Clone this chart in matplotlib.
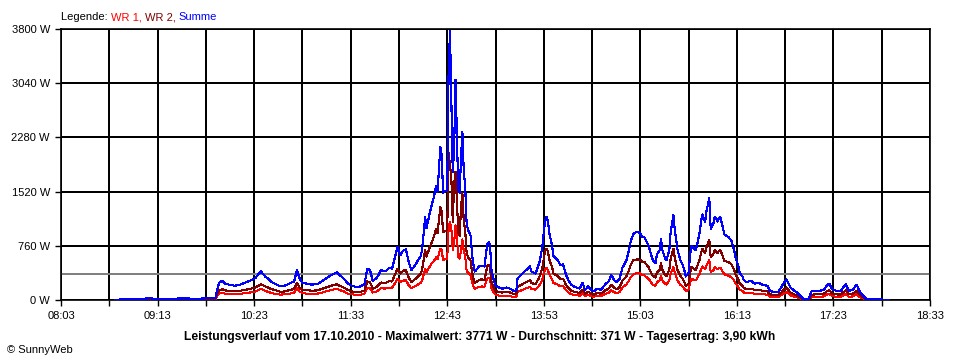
import matplotlib
matplotlib.use("Agg")
import matplotlib.pyplot as plt

plt.rcParams['font.family'] = ['Liberation Sans', 'DejaVu Sans']

# measurement times (clock) and power in W
times = [
    "08:42", "08:51", "08:55", "09:00", "09:04", "09:08", "09:12", "09:17", "09:22", "09:27",
    "09:32", "09:37", "09:42", "09:47", "09:52", "09:55", "09:56", "09:57", "09:58", "10:00",
    "10:02", "10:06", "10:09", "10:13", "10:16", "10:20", "10:24", "10:27", "10:28", "10:31",
    "10:33", "10:36", "10:39", "10:42", "10:45", "10:49", "10:52", "10:54", "10:56", "10:58",
    "11:01", "11:05", "11:09", "11:12", "11:15", "11:18", "11:21", "11:23", "11:25", "11:28",
    "11:31", "11:34", "11:37", "11:40", "11:43", "11:45", "11:47", "11:49", "11:52", "11:55",
    "11:58", "12:01", "12:03", "12:05", "12:07", "12:09", "12:11", "12:13", "12:15", "12:17",
    "12:19", "12:22", "12:24", "12:25", "12:27", "12:28", "12:30", "12:32", "12:33", "12:35",
    "12:36", "12:38", "12:39", "12:40", "12:41", "12:43", "12:44", "12:45", "12:46", "12:47",
    "12:48", "12:49", "12:50", "12:51", "12:52", "12:53", "12:54", "12:55", "12:56", "12:57",
    "12:58", "12:59", "13:00", "13:01", "13:02", "13:03", "13:04", "13:06", "13:08", "13:10",
    "13:12", "13:13", "13:14", "13:15", "13:17", "13:18", "13:21", "13:23", "13:26", "13:28",
    "13:31", "13:33", "13:34", "13:36", "13:39", "13:41", "13:43", "13:44", "13:47", "13:49",
    "13:50", "13:52", "13:53", "13:54", "13:55", "13:56", "13:57", "13:59", "14:00", "14:03",
    "14:05", "14:07", "14:09", "14:11", "14:13", "14:16", "14:19", "14:21", "14:23", "14:25",
    "14:27", "14:29", "14:32", "14:34", "14:36", "14:38", "14:40", "14:42", "14:44", "14:46",
    "14:48", "14:50", "14:53", "14:55", "14:56", "14:58", "15:01", "15:03", "15:04", "15:06",
    "15:09", "15:10", "15:12", "15:14", "15:15", "15:17", "15:18", "15:19", "15:21", "15:22",
    "15:24", "15:25", "15:27", "15:28", "15:30", "15:32", "15:34", "15:36", "15:38", "15:39",
    "15:40", "15:43", "15:44", "15:46", "15:47", "15:48", "15:50", "15:51", "15:53", "15:54",
    "15:56", "15:57", "15:59", "16:00", "16:01", "16:03", "16:04", "16:07", "16:09", "16:11",
    "16:12", "16:14", "16:15", "16:17", "16:18", "16:20", "16:23", "16:26", "16:29", "16:32",
    "16:35", "16:37", "16:40", "16:43", "16:45", "16:47", "16:49", "16:50", "16:52", "16:54",
    "16:57", "16:59", "17:01", "17:05", "17:07", "17:10", "17:13", "17:16", "17:18", "17:20",
    "17:22", "17:25", "17:28", "17:31", "17:32", "17:34", "17:37", "17:39", "17:40", "17:42",
    "17:45", "17:47", "17:51", "17:55", "17:58", "18:03",
]

summe = [
    5, 8, 10, 12, 20, 24, 14, 12, 16, 20,
    22, 20, 18, 22, 24, 30, 130, 200, 250, 270,
    230, 210, 200, 215, 240, 270, 310, 380, 400, 330,
    300, 250, 220, 190, 200, 235, 260, 420, 300, 240,
    230, 215, 225, 260, 300, 340, 370, 390, 350, 300,
    230, 200, 180, 190, 220, 440, 420, 270, 310, 420,
    400, 450, 440, 590, 750, 630, 690, 710, 540, 420,
    470, 560, 620, 750, 1160, 1010, 1190, 1350, 1420, 1600,
    1520, 2150, 2030, 1500, 1520, 1540, 3200, 3771, 2800, 1800,
    2100, 3084, 2300, 1550, 1500, 1990, 2360, 1800, 1600, 1100,
    980, 950, 900, 640, 500, 400, 420, 470, 480, 470,
    780, 810, 780, 430, 260, 200, 170, 160, 175, 165,
    130, 120, 300, 340, 400, 430, 470, 400, 370, 480,
    540, 750, 950, 1120, 1168, 1100, 940, 760, 620, 560,
    490, 500, 360, 270, 210, 180, 160, 240, 140, 190,
    150, 120, 160, 140, 180, 230, 260, 350, 280, 250,
    300, 450, 560, 720, 820, 930, 960, 930, 890, 880,
    760, 690, 560, 520, 640, 700, 860, 700, 580, 560,
    700, 960, 1190, 980, 700, 560, 480, 330, 380, 620,
    760, 700, 760, 950, 1100, 1200, 1100, 1250, 1430, 1000,
    1080, 1170, 1100, 1150, 1160, 1000, 920, 880, 830, 700,
    600, 480, 380, 330, 280, 250, 270, 230, 240, 210,
    200, 130, 110, 115, 170, 240, 290, 250, 170, 140,
    100, 60, 15, 15, 120, 125, 130, 140, 200, 230,
    150, 130, 120, 200, 220, 130, 140, 200, 210, 120,
    50, 15, 12, 8, 6, 0,
]

wr2 = [
    3, 5, 6, 7, 12, 14, 8, 7, 9, 12,
    13, 12, 11, 13, 14, 18, 80, 120, 140, 150,
    135, 125, 125, 130, 140, 155, 175, 210, 220, 190,
    175, 150, 135, 115, 120, 140, 155, 240, 175, 145,
    140, 130, 135, 155, 175, 195, 210, 220, 200, 175,
    140, 120, 110, 115, 130, 260, 250, 160, 185, 245,
    235, 265, 260, 350, 440, 370, 410, 420, 320, 250,
    280, 330, 370, 450, 700, 610, 720, 820, 870, 1000,
    940, 1300, 1250, 950, 960, 980, 2060, 1900, 1700, 1100,
    1610, 1800, 1400, 950, 900, 1300, 1500, 1100, 980, 680,
    600, 580, 550, 390, 300, 240, 250, 280, 290, 280,
    470, 490, 470, 260, 160, 125, 110, 105, 115, 110,
    85, 80, 180, 205, 240, 255, 280, 240, 220, 290,
    330, 450, 580, 690, 720, 680, 570, 460, 370, 340,
    295, 300, 215, 165, 130, 110, 100, 145, 90, 115,
    95, 75, 100, 90, 110, 140, 160, 210, 170, 150,
    180, 270, 335, 430, 490, 560, 570, 560, 540, 530,
    460, 415, 340, 315, 385, 420, 520, 420, 350, 340,
    420, 580, 720, 590, 420, 340, 290, 200, 230, 370,
    460, 420, 460, 570, 660, 720, 660, 750, 840, 600,
    650, 700, 660, 690, 700, 600, 550, 530, 500, 420,
    360, 290, 230, 200, 170, 150, 160, 140, 145, 125,
    120, 80, 70, 70, 100, 145, 175, 150, 100, 85,
    60, 36, 9, 9, 75, 78, 80, 85, 120, 140,
    90, 80, 75, 120, 135, 80, 85, 120, 125, 75,
    30, 9, 7, 5, 4, 0,
]

wr1 = [
    2, 3, 4, 5, 8, 10, 6, 5, 7, 8,
    9, 8, 7, 9, 10, 12, 50, 80, 95, 100,
    90, 85, 80, 85, 95, 105, 120, 150, 160, 130,
    115, 95, 85, 75, 80, 90, 100, 170, 120, 95,
    90, 85, 90, 100, 120, 135, 150, 160, 140, 120,
    90, 80, 70, 75, 85, 170, 165, 105, 120, 165,
    160, 175, 175, 230, 300, 250, 270, 280, 210, 165,
    185, 220, 240, 290, 440, 390, 460, 520, 540, 600,
    570, 720, 700, 560, 570, 580, 1000, 1100, 1000, 700,
    800, 1050, 900, 600, 580, 700, 850, 680, 620, 420,
    380, 370, 350, 250, 195, 155, 165, 185, 190, 185,
    300, 310, 300, 165, 100, 75, 60, 55, 60, 55,
    45, 40, 115, 130, 155, 170, 185, 155, 145, 185,
    210, 290, 370, 430, 450, 420, 360, 290, 240, 215,
    190, 195, 140, 105, 80, 70, 60, 95, 50, 75,
    55, 45, 60, 50, 70, 90, 100, 135, 110, 95,
    115, 175, 220, 280, 320, 360, 380, 370, 350, 345,
    295, 270, 215, 200, 250, 275, 335, 275, 225, 215,
    275, 375, 460, 380, 275, 215, 185, 125, 145, 245,
    295, 275, 295, 370, 430, 470, 430, 490, 560, 390,
    420, 460, 430, 450, 450, 390, 360, 340, 320, 275,
    235, 185, 145, 125, 105, 95, 105, 85, 90, 80,
    75, 45, 40, 42, 65, 90, 110, 95, 65, 50,
    38, 22, 6, 6, 42, 44, 46, 50, 75, 85,
    55, 46, 42, 75, 80, 46, 50, 75, 80, 42,
    18, 6, 5, 3, 2, 0,
]

average = 371
y_ticks = [0, 760, 1520, 2280, 3040, 3800]
x_start, x_end, x_step = "08:03", "18:33", 35

legend_parts = [("Legende: ", "black"), ("WR 1, ", "#ff0000"),
                ("WR 2, ", "#800000"), ("Summe", "#0000ff")]
footer = ("Leistungsverlauf vom 17.10.2010 - Maximalwert: 3771 W - "
          "Durchschnitt: 371 W - Tagesertrag: 3,90 kWh")


def to_min(s):
    h, m = s.split(":")
    return int(h) * 60 + int(m)


def to_clock(v):
    return "%02d:%02d" % (v // 60, v % 60)


t = [to_min(s) for s in times]
x0, x1 = to_min(x_start), to_min(x_end)

fig = plt.figure(figsize=(9.6, 3.6), dpi=100)
ax = fig.add_axes([61 / 960, 60 / 360, 869 / 960, 271 / 360])

ax.plot(t, wr1, color="#ff0000", lw=0.75, antialiased=False, zorder=3)
ax.plot(t, wr2, color="#800000", lw=0.8, antialiased=False, zorder=4)
ax.plot(t, summe, color="#0000ff", lw=0.8, antialiased=False, zorder=5)
ax.axhline(average, color="#808080", lw=1.2, antialiased=False, zorder=2)

ax.set_xlim(x0, x1)
ax.set_ylim(0, 3800)
xt = list(range(x0, x1 + 1, x_step))
ax.set_xticks(xt)
ax.set_xticklabels([to_clock(v) if i % 2 == 0 else "" for i, v in enumerate(xt)])
ax.set_yticks(y_ticks)
ax.set_yticklabels(["%d W" % v for v in y_ticks])
ax.tick_params(direction="out", length=4, width=1, colors="black",
               labelsize=8, pad=4)
ax.grid(True, color="black", lw=1.2, antialiased=False, zorder=1)
ax.set_axisbelow(True)
for sp in ax.spines.values():
    sp.set_color("black")
    sp.set_linewidth(1.2)

# coloured legend line on top
renderer = fig.canvas.get_renderer()
xpos = 61
for txt, col in legend_parts:
    tx = fig.text(xpos / 960, 1 - 17 / 360, txt, color=col, fontsize=8,
                  va="center", ha="left")
    xpos += tx.get_window_extent(renderer).width

fig.text(0.5, 1 - 337 / 360, footer, ha="center", va="center",
         fontsize=8.7, fontweight="bold")
fig.text(7 / 960, 1 - 350 / 360, "\u00a9 SunnyWeb", ha="left", va="center",
         fontsize=8)

fig.savefig("out.png", dpi=100, facecolor="white")
